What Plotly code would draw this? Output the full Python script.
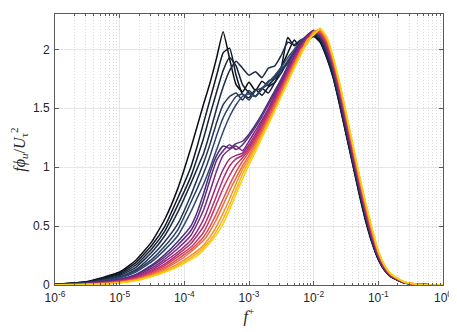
import plotly.graph_objects as go

# log10 of f+ sample positions
LOG_F = [-6.0, -5.5, -5.0, -4.75, -4.5, -4.3, -4.1, -3.9, -3.8, -3.7, -3.6, -3.5, -3.4, -3.3,
         -3.2, -3.1, -3.0, -2.9, -2.8, -2.7, -2.6, -2.5, -2.4, -2.3, -2.2, -2.1, -2.0, -1.9,
         -1.8, -1.7, -1.6, -1.5, -1.4, -1.3, -1.2, -1.1, -1.0, -0.9, -0.8, -0.6, -0.4, -0.2, 0.0]

C1 = [0.006, 0.03, 0.11, 0.21, 0.37, 0.56, 0.82, 1.16, 1.35, 1.54, 1.72, 1.93, 2.15, 1.92, 1.70, 1.64, 1.72, 1.65, 1.73, 1.69, 1.77, 1.85, 1.97, 2.08, 2.01, 2.10, 2.12, 2.07, 1.94, 1.77, 1.54, 1.29, 1.04, 0.79, 0.56, 0.37, 0.22, 0.125, 0.068, 0.018, 0.005, 0.0015, 0.0005]
C2 = [0.005, 0.027, 0.10, 0.19, 0.34, 0.50, 0.74, 1.00, 1.18, 1.38, 1.58, 1.78, 1.97, 2.01, 1.78, 1.62, 1.59, 1.66, 1.61, 1.68, 1.72, 1.85, 2.10, 2.03, 2.07, 2.08, 2.11, 2.06, 1.93, 1.76, 1.53, 1.28, 1.03, 0.78, 0.55, 0.36, 0.215, 0.12, 0.066, 0.017, 0.005, 0.0015, 0.0005]
C3 = [0.005, 0.025, 0.09, 0.17, 0.31, 0.46, 0.68, 0.92, 1.08, 1.25, 1.45, 1.64, 1.82, 1.93, 1.86, 1.70, 1.63, 1.60, 1.67, 1.63, 1.72, 1.80, 1.90, 1.98, 2.05, 2.08, 2.12, 2.08, 1.95, 1.78, 1.55, 1.30, 1.05, 0.80, 0.57, 0.37, 0.22, 0.125, 0.068, 0.018, 0.005, 0.0015, 0.0005]
C4 = [0.004, 0.022, 0.08, 0.15, 0.28, 0.42, 0.62, 0.86, 0.99, 1.12, 1.30, 1.50, 1.68, 1.82, 1.90, 1.84, 1.78, 1.81, 1.76, 1.84, 1.86, 1.95, 2.06, 2.04, 2.08, 2.10, 2.13, 2.09, 1.96, 1.79, 1.56, 1.31, 1.06, 0.81, 0.58, 0.38, 0.225, 0.128, 0.07, 0.019, 0.005, 0.0015, 0.0005]
C5 = [0.004, 0.02, 0.07, 0.13, 0.25, 0.37, 0.52, 0.76, 0.90, 1.04, 1.20, 1.38, 1.53, 1.60, 1.63, 1.57, 1.65, 1.60, 1.67, 1.70, 1.75, 1.82, 1.88, 1.97, 2.03, 2.10, 2.14, 2.10, 1.98, 1.81, 1.58, 1.33, 1.07, 0.82, 0.59, 0.385, 0.23, 0.13, 0.071, 0.019, 0.005, 0.0015, 0.0005]
C6 = [0.003, 0.018, 0.065, 0.12, 0.22, 0.33, 0.47, 0.70, 0.82, 0.95, 1.10, 1.27, 1.42, 1.52, 1.60, 1.62, 1.57, 1.65, 1.67, 1.73, 1.76, 1.83, 1.90, 1.98, 2.04, 2.10, 2.15, 2.11, 1.99, 1.82, 1.59, 1.34, 1.08, 0.83, 0.60, 0.39, 0.235, 0.133, 0.072, 0.02, 0.0055, 0.0016, 0.0005]
C7 = [0.003, 0.016, 0.06, 0.11, 0.20, 0.30, 0.42, 0.62, 0.74, 0.86, 1.00, 1.15, 1.30, 1.43, 1.53, 1.60, 1.62, 1.60, 1.66, 1.72, 1.78, 1.85, 1.93, 2.00, 2.07, 2.12, 2.16, 2.11, 2.00, 1.83, 1.60, 1.35, 1.09, 0.84, 0.61, 0.40, 0.24, 0.135, 0.074, 0.02, 0.0055, 0.0016, 0.0005]
C8 = [0.003, 0.014, 0.05, 0.09, 0.17, 0.26, 0.37, 0.50, 0.62, 0.78, 0.96, 1.10, 1.18, 1.16, 1.20, 1.22, 1.28, 1.36, 1.45, 1.55, 1.65, 1.75, 1.86, 1.98, 2.06, 2.12, 2.16, 2.12, 2.01, 1.84, 1.61, 1.36, 1.10, 0.85, 0.61, 0.40, 0.24, 0.135, 0.074, 0.02, 0.0055, 0.0016, 0.0005]
C9 = [0.0025, 0.012, 0.045, 0.085, 0.16, 0.24, 0.34, 0.46, 0.57, 0.72, 0.90, 1.06, 1.14, 1.19, 1.15, 1.19, 1.26, 1.34, 1.43, 1.53, 1.63, 1.73, 1.84, 1.95, 2.04, 2.11, 2.15, 2.12, 2.01, 1.84, 1.61, 1.36, 1.10, 0.85, 0.61, 0.40, 0.24, 0.135, 0.074, 0.02, 0.0055, 0.0016, 0.0005]
C10 = [0.0022, 0.011, 0.04, 0.078, 0.145, 0.22, 0.31, 0.42, 0.52, 0.64, 0.80, 0.97, 1.10, 1.15, 1.18, 1.14, 1.22, 1.31, 1.40, 1.50, 1.61, 1.72, 1.83, 1.94, 2.04, 2.11, 2.16, 2.13, 2.02, 1.85, 1.62, 1.37, 1.11, 0.86, 0.62, 0.41, 0.245, 0.138, 0.075, 0.02, 0.0055, 0.0016, 0.0005]
C11 = [0.002, 0.01, 0.036, 0.07, 0.13, 0.20, 0.28, 0.38, 0.46, 0.56, 0.70, 0.85, 0.98, 1.07, 1.10, 1.12, 1.19, 1.28, 1.38, 1.48, 1.59, 1.70, 1.81, 1.92, 2.02, 2.10, 2.15, 2.13, 2.03, 1.86, 1.63, 1.38, 1.12, 0.87, 0.63, 0.42, 0.25, 0.14, 0.077, 0.021, 0.0057, 0.0017, 0.0005]
C12 = [0.0018, 0.009, 0.033, 0.064, 0.12, 0.18, 0.26, 0.35, 0.42, 0.50, 0.62, 0.76, 0.90, 1.01, 1.07, 1.10, 1.17, 1.26, 1.36, 1.46, 1.57, 1.68, 1.80, 1.91, 2.01, 2.09, 2.14, 2.13, 2.04, 1.87, 1.65, 1.40, 1.14, 0.88, 0.64, 0.43, 0.26, 0.145, 0.08, 0.022, 0.006, 0.0018, 0.0005]
C13 = [0.0016, 0.008, 0.03, 0.058, 0.11, 0.165, 0.24, 0.32, 0.38, 0.45, 0.56, 0.69, 0.82, 0.93, 1.02, 1.08, 1.15, 1.24, 1.34, 1.45, 1.56, 1.67, 1.79, 1.90, 2.00, 2.08, 2.14, 2.14, 2.05, 1.88, 1.66, 1.41, 1.15, 0.89, 0.65, 0.44, 0.265, 0.148, 0.082, 0.023, 0.0062, 0.0018, 0.0005]
C14 = [0.0014, 0.007, 0.027, 0.052, 0.10, 0.15, 0.22, 0.30, 0.35, 0.41, 0.50, 0.61, 0.73, 0.85, 0.96, 1.05, 1.13, 1.22, 1.32, 1.43, 1.54, 1.66, 1.78, 1.89, 1.99, 2.08, 2.14, 2.15, 2.07, 1.90, 1.68, 1.43, 1.17, 0.91, 0.67, 0.45, 0.27, 0.155, 0.085, 0.024, 0.0065, 0.002, 0.0006]
C15 = [0.0013, 0.0065, 0.025, 0.048, 0.092, 0.14, 0.20, 0.28, 0.33, 0.38, 0.46, 0.56, 0.68, 0.80, 0.91, 1.01, 1.10, 1.20, 1.30, 1.41, 1.52, 1.64, 1.76, 1.88, 1.98, 2.05, 2.15, 2.16, 2.08, 1.91, 1.69, 1.44, 1.18, 0.92, 0.68, 0.46, 0.275, 0.157, 0.087, 0.025, 0.0067, 0.002, 0.0006]
C16 = [0.0012, 0.006, 0.022, 0.043, 0.083, 0.125, 0.18, 0.25, 0.29, 0.34, 0.41, 0.50, 0.61, 0.73, 0.86, 0.98, 1.08, 1.18, 1.28, 1.39, 1.50, 1.62, 1.74, 1.86, 1.99, 2.05, 2.15, 2.17, 2.09, 1.92, 1.70, 1.45, 1.19, 0.93, 0.69, 0.47, 0.28, 0.16, 0.088, 0.025, 0.0068, 0.002, 0.0006]
C17 = [0.001, 0.005, 0.02, 0.04, 0.077, 0.115, 0.165, 0.23, 0.27, 0.32, 0.38, 0.46, 0.56, 0.68, 0.81, 0.94, 1.05, 1.16, 1.27, 1.38, 1.49, 1.61, 1.73, 1.85, 1.96, 2.08, 2.12, 2.18, 2.10, 1.93, 1.71, 1.46, 1.20, 0.94, 0.70, 0.48, 0.285, 0.163, 0.09, 0.026, 0.007, 0.002, 0.0006]
C18 = [0.001, 0.0045, 0.018, 0.037, 0.072, 0.108, 0.155, 0.215, 0.25, 0.30, 0.36, 0.43, 0.52, 0.64, 0.77, 0.90, 1.02, 1.13, 1.25, 1.36, 1.48, 1.60, 1.72, 1.84, 1.95, 2.05, 2.13, 2.17, 2.11, 1.94, 1.72, 1.47, 1.21, 0.95, 0.71, 0.49, 0.29, 0.165, 0.092, 0.027, 0.0072, 0.002, 0.0006]

SERIES = [C1, C2, C3, C4, C5, C6, C7, C8, C9, C10, C11, C12, C13, C14, C15, C16, C17, C18]

X_TICK_EXP = [-6, -5, -4, -3, -2, -1, 0]
Y_TICKS = [0, 0.5, 1, 1.5, 2]
Y_TICK_TEXT = ["0", "0.5", "1", "1.5", "2"]

COLORS = ["#0b0e14", "#0f1724", "#142034", "#1b2a44", "#223553", "#2a3f63", "#324870",
          "#48307a", "#5f2a7f", "#782a80", "#972879", "#b22d71", "#cb3665", "#df4e50",
          "#ee6d3a", "#f58f2a", "#f9b11b", "#fcd20b"]

f_vals = [10 ** v for v in LOG_F]

fig = go.Figure()
for ys, col in zip(SERIES, COLORS):
    fig.add_trace(go.Scatter(x=f_vals, y=ys, mode="lines",
                             line=dict(color=col, width=1.5, shape="spline", smoothing=0.45),
                             showlegend=False, hoverinfo="skip"))

axis_col = "#5a5a5a"
tick_font = dict(family="Liberation Sans, Arial, sans-serif", size=12, color="#262626")
title_font = dict(family="Liberation Serif, Times New Roman, serif", size=16, color="#262626")

fig.update_xaxes(
    type="log", range=[-6, 0],
    tickvals=[10 ** e for e in X_TICK_EXP],
    ticktext=["10<sup>%d</sup>" % e for e in X_TICK_EXP],
    ticks="inside", ticklen=4, tickcolor=axis_col, ticklabelstandoff=2,
    showline=True, linecolor=axis_col, linewidth=1, mirror="allticks",
    showgrid=True, gridcolor="#e6e6e6", gridwidth=1,
    minor=dict(dtick="D1", ticks="inside", ticklen=2, tickcolor=axis_col, showgrid=True,
               gridcolor="#dadada", griddash="1px,2px", gridwidth=1),
    zeroline=False, tickfont=tick_font,
    title=dict(text="<i>f</i><sup>+</sup>", standoff=2, font=title_font),
)
fig.update_yaxes(
    range=[0, 2.3], tickvals=Y_TICKS, ticktext=Y_TICK_TEXT,
    ticks="inside", ticklen=4, tickcolor=axis_col, ticklabelstandoff=2,
    showline=True, linecolor=axis_col, linewidth=1, mirror="allticks",
    showgrid=True, gridcolor="#e6e6e6", gridwidth=1,
    zeroline=False, tickfont=tick_font,
    title=dict(text="<i>fϕ<sub>u</sub></i>/<i>U</i><sub>τ</sub><sup>2</sup>", standoff=4,
               font=title_font),
)

# the page body adds an 8 px offset, so the figure is sized to the remaining window
fig.update_layout(
    width=449, height=324,
    margin=dict(l=47, r=10, t=5, b=47),
    paper_bgcolor="white", plot_bgcolor="white",
)

fig.write_html("out.html")
